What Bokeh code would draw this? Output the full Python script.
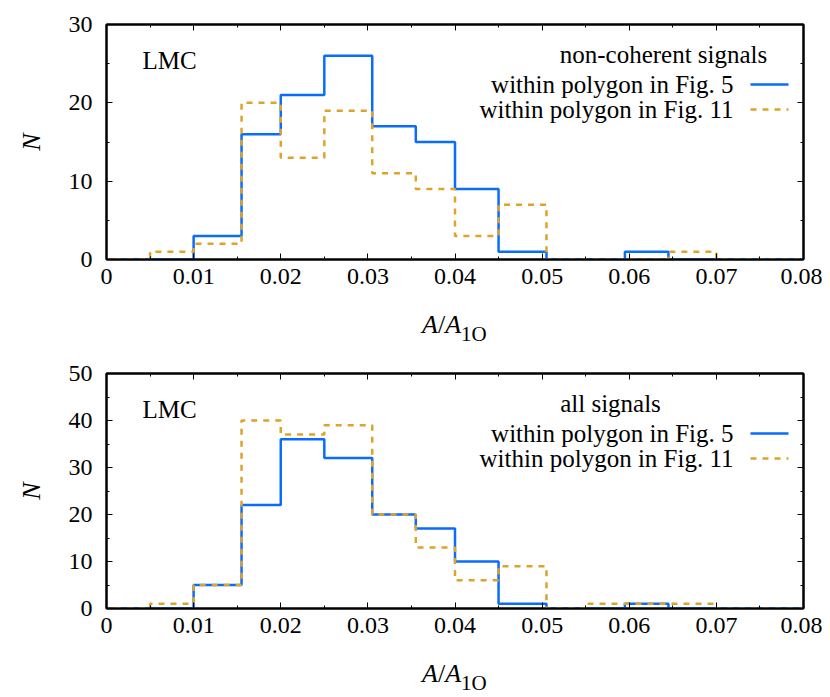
import math
from bokeh.plotting import figure
from bokeh.models import (Range1d, LinearAxis, SingleIntervalTicker, Label, Div,
                          CustomJSTickFormatter)
from bokeh.layouts import column
from bokeh.embed import file_html
from bokeh.resources import INLINE

# ---- data ----
x_edges = [0.001, 0.005, 0.010, 0.0155, 0.020, 0.025, 0.0305, 0.0355, 0.040,
           0.045, 0.0505, 0.055, 0.0595, 0.0645, 0.070, 0.075, 0.080]

noncoh_fig5 = [0, 0, 3, 16, 21, 26, 17, 15, 9, 1, 0, 0, 1, 0, 0, 0]
noncoh_fig11 = [0, 1, 2, 20, 13, 19, 11, 9, 3, 7, 0, 0, 0, 1, 0, 0]

all_fig5 = [0, 0, 5, 22, 36, 32, 20, 17, 10, 1, 0, 0, 1, 0, 0, 0]
all_fig11 = [0, 1, 5, 40, 37, 39, 20, 13, 6, 9, 0, 1, 1, 1, 0, 0]

x_ticks_interval = 0.01
series_labels = ["within polygon in Fig. 5", "within polygon in Fig. 11"]
panel_titles = ["non-coherent signals", "all signals"]
field_label = "LMC"

BLUE = "#0a6cff"
GOLD = "#dca42a"
FONT = "'Liberation Serif'"

FW, FH = 697, 235
XMAX = 0.08


def style_axis(ax, show_labels=True):
    ax.axis_line_color = "black"
    ax.axis_line_width = 2
    ax.major_tick_in = 6
    ax.major_tick_out = 0
    ax.minor_tick_in = 3
    ax.minor_tick_out = 0
    ax.major_tick_line_color = "black"
    ax.minor_tick_line_color = "black"
    ax.major_tick_line_width = 1
    ax.minor_tick_line_width = 1
    ax.major_label_text_font = FONT
    ax.major_label_text_color = "black"
    if show_labels:
        ax.major_label_text_font_size = "24px"
    else:
        ax.formatter = CustomJSTickFormatter(code="return ''")
        ax.major_label_text_font_size = "1px"
        ax.major_label_standoff = 0


def make_panel(ymax, blue, gold, title, title_center, border_top):
    p = figure(x_range=Range1d(0, XMAX), y_range=Range1d(0, ymax),
               frame_width=FW, frame_height=FH,
               min_border_left=106, min_border_right=19,
               min_border_top=border_top, min_border_bottom=40,
               output_backend="svg", toolbar_location=None)
    p.grid.visible = False
    p.outline_line_color = "black"
    p.outline_line_width = 2
    p.background_fill_color = "white"
    p.border_fill_color = "white"

    p.xaxis.ticker = SingleIntervalTicker(interval=x_ticks_interval, num_minor_ticks=2)
    p.yaxis.ticker = SingleIntervalTicker(interval=10, num_minor_ticks=2)
    style_axis(p.xaxis[0])
    style_axis(p.yaxis[0])
    p.xaxis.major_label_overrides = {0: "0"}
    p.xaxis.major_label_standoff = 9
    p.yaxis.major_label_standoff = 14
    p.yaxis.axis_label = "N"
    p.yaxis.axis_label_text_font = FONT
    p.yaxis.axis_label_text_font_size = "26px"
    p.yaxis.axis_label_text_font_style = "italic"
    p.yaxis.axis_label_text_color = "black"
    p.yaxis.axis_label_standoff = 20

    top_ax = LinearAxis(ticker=SingleIntervalTicker(interval=x_ticks_interval, num_minor_ticks=2))
    right_ax = LinearAxis(ticker=SingleIntervalTicker(interval=10, num_minor_ticks=2))
    style_axis(top_ax, False)
    style_axis(right_ax, False)
    p.add_layout(top_ax, "above")
    p.add_layout(right_ax, "right")

    p.step(x=x_edges, y=blue + [blue[-1]], mode="after",
           line_color=BLUE, line_width=2.5)
    p.step(x=x_edges, y=gold + [gold[-1]], mode="after",
           line_color=GOLD, line_width=2.5, line_dash="6 6")

    ppx = FW / XMAX
    ppy = FH / ymax

    p.add_layout(Label(x=0, y=ymax, x_offset=36, y_offset=-36, text=field_label,
                       text_font=FONT, text_font_size="25px", text_color="black",
                       text_align="left", text_baseline="middle"))
    p.add_layout(Label(x=XMAX, y=ymax, x_offset=title_center, y_offset=-30, text=title,
                       text_font=FONT, text_font_size="25px", text_color="black",
                       text_align="center", text_baseline="middle"))
    rows = [(-60, series_labels[0], BLUE, "solid"), (-85, series_labels[1], GOLD, "6 6")]
    for dy, txt, col, dash in rows:
        p.add_layout(Label(x=XMAX, y=ymax, x_offset=-70, y_offset=dy, text=txt,
                           text_font=FONT, text_font_size="25px", text_color="black",
                           text_align="right", text_baseline="middle"))
        yy = ymax + dy / ppy
        p.segment(x0=[XMAX - 53 / ppx], x1=[XMAX - 15 / ppx], y0=[yy], y1=[yy],
                  line_color=col, line_width=2.5, line_dash=dash)
    return p


def x_label_div(height, pad_top):
    html = ('<div style="padding-left:422px; padding-top:%dpx; '
            'font-family:\'Liberation Serif\',serif; font-size:26px; line-height:26px; '
            'color:black; white-space:nowrap;">'
            '<i>A</i>/<i>A</i><span style="font-size:21px; position:relative; top:8px;">1O</span>'
            '</div>' % pad_top)
    return Div(text=html, width=814, height=height, margin=0)


p1 = make_panel(30, noncoh_fig5, noncoh_fig11, panel_titles[0], -140, 24)
d1 = x_label_div(58, 13)
p2 = make_panel(50, all_fig5, all_fig11, panel_titles[1], -193, 16)
d2 = x_label_div(49, 13)

layout = column(p1, d1, p2, d2, spacing=0)
open("out.html", "w").write(file_html(layout, INLINE))
